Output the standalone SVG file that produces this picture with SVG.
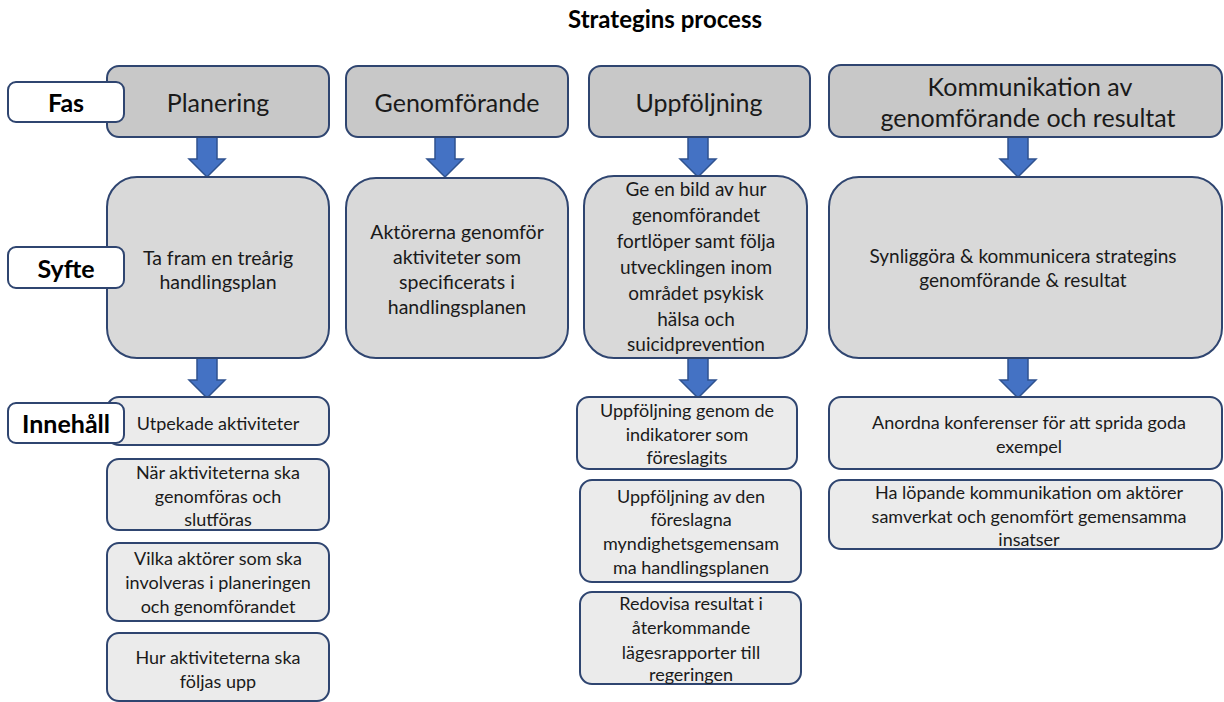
<svg xmlns="http://www.w3.org/2000/svg" width="1224" height="702" viewBox="0 0 1224 702">
<style>
text{font-family:Lato,"Liberation Sans",sans-serif;fill:#1a1a1a;text-anchor:middle;dominant-baseline:central}
.phase{fill:#c8c8c8;stroke:#2f4570;stroke-width:2}
.syfte{fill:#d9d9d9;stroke:#2f4570;stroke-width:2}
.cont{fill:#ebebeb;stroke:#2f4570;stroke-width:2}
.lab{fill:#ffffff;stroke:#2f4570;stroke-width:2}
.arr{fill:#4472c4;stroke:#2f528f;stroke-width:1.5}
.t1{font-size:25px}
.t2{font-size:19.5px}
.t2u{font-size:19px}
.t2k{font-size:19px}
.t3{font-size:18px}
.lb{font-size:25px;font-weight:bold;fill:#000}
.title{font-size:24px;font-weight:bold;fill:#000}
</style>
<defs>
<path id="ar" class="arr" d="M-10,0 H10 V22 H18 L0,40 L-18,22 H-10 Z"/>
</defs>
<text class="title" x="665" y="18">Strategins process</text>

<g id="connectors">
<use href="#ar" x="207" y="137"/>
<use href="#ar" x="445" y="137"/>
<use href="#ar" x="698" y="137"/>
<use href="#ar" x="1018" y="137"/>
<use href="#ar" x="207" y="358"/>
<use href="#ar" x="698" y="358"/>
<use href="#ar" x="1018" y="358"/>
</g>

<g id="planering"><rect class="phase" x="107" y="66" width="222" height="71" rx="12"/><text class="t1" x="218" y="102">Planering</text></g>
<g id="genomforande"><rect class="phase" x="346" y="66" width="222" height="71" rx="12"/><text class="t1" x="457" y="102">Genomförande</text></g>
<g id="uppfoljning"><rect class="phase" x="589" y="66" width="221" height="71" rx="12"/><text class="t1" x="699" y="102">Uppföljning</text></g>
<g id="kommunikation"><rect class="phase" x="829" y="65" width="393" height="72" rx="12"/><text class="t1" x="1030" y="86">Kommunikation av</text><text class="t1" x="1028" y="117">genomförande och resultat</text></g>

<g id="syfte-planering"><rect class="syfte" x="107" y="177" width="222" height="181" rx="30"/><text class="t2" x="218" y="257">Ta fram en treårig</text><text class="t2" x="218" y="281">handlingsplan</text></g>
<g id="syfte-genomforande"><rect class="syfte" x="346" y="178" width="222" height="180" rx="30"/><text class="t2" x="457" y="231">Aktörerna genomför</text><text class="t2" x="457" y="256">aktiviteter som</text><text class="t2" x="457" y="281">specificerats i</text><text class="t2" x="457" y="306">handlingsplanen</text></g>
<g id="syfte-uppfoljning"><rect class="syfte" x="584" y="176" width="223" height="182" rx="30"/>
<text class="t2u" x="696" y="188">Ge en bild av hur</text><text class="t2u" x="696" y="214">genomförandet</text><text class="t2u" x="696" y="240">fortlöper samt följa</text><text class="t2u" x="696" y="266">utvecklingen inom</text><text class="t2u" x="696" y="292">området psykisk</text><text class="t2u" x="696" y="318">hälsa och</text><text class="t2u" x="696" y="343">suicidprevention</text></g>
<g id="syfte-kommunikation"><rect class="syfte" x="829" y="177" width="393" height="181" rx="30"/><text class="t2k" x="1023" y="255">Synliggöra &amp; kommunicera strategins</text><text class="t2k" x="1023" y="279">genomförande &amp; resultat</text></g>

<g id="p1"><rect class="cont" x="107" y="397" width="222" height="48" rx="12"/><text class="t3" x="218" y="423">Utpekade aktiviteter</text></g>
<g id="p2"><rect class="cont" x="107" y="459" width="222" height="71" rx="12"/><text class="t3" x="218" y="472">När aktiviteterna ska</text><text class="t3" x="218" y="496">genomföras och</text><text class="t3" x="218" y="519">slutföras</text></g>
<g id="p3"><rect class="cont" x="107" y="543" width="222" height="78" rx="12"/><text class="t3" x="218" y="558">Vilka aktörer som ska</text><text class="t3" x="218" y="582">involveras i planeringen</text><text class="t3" x="218" y="606">och genomförandet</text></g>
<g id="p4"><rect class="cont" x="107" y="633" width="222" height="68" rx="12"/><text class="t3" x="218" y="657">Hur aktiviteterna ska</text><text class="t3" x="218" y="681">följas upp</text></g>

<g id="u1"><rect class="cont" x="577" y="397" width="220" height="72" rx="12"/><text class="t3" x="687" y="410">Uppföljning genom de</text><text class="t3" x="687" y="434">indikatorer som</text><text class="t3" x="687" y="457">föreslagits</text></g>
<g id="u2"><rect class="cont" x="580" y="480" width="221" height="102" rx="12"/><text class="t3" x="691" y="496">Uppföljning av den</text><text class="t3" x="691" y="519">föreslagna</text><text class="t3" x="691" y="543">myndighetsgemensam</text><text class="t3" x="691" y="567">ma handlingsplanen</text></g>
<g id="u3"><rect class="cont" x="580" y="592" width="221" height="92" rx="12"/><text class="t3" x="691" y="603">Redovisa resultat i</text><text class="t3" x="691" y="627">återkommande</text><text class="t3" x="691" y="652">lägesrapporter till</text><text class="t3" x="691" y="674">regeringen</text></g>

<g id="k1"><rect class="cont" x="829" y="397" width="393" height="72" rx="12"/><text class="t3" x="1029" y="422">Anordna konferenser för att sprida goda</text><text class="t3" x="1029" y="446">exempel</text></g>
<g id="k2"><rect class="cont" x="829" y="480" width="393" height="69" rx="12"/><text class="t3" x="1029" y="492">Ha löpande kommunikation om aktörer</text><text class="t3" x="1029" y="516">samverkat och genomfört gemensamma</text><text class="t3" x="1029" y="539">insatser</text></g>

<g id="label-fas"><rect class="lab" x="8" y="82" width="116" height="40" rx="8"/><text class="lb" x="66" y="102">Fas</text></g>
<g id="label-syfte"><rect class="lab" x="8" y="247" width="116" height="41" rx="8"/><text class="lb" x="66" y="268">Syfte</text></g>
<g id="label-innehall"><rect class="lab" x="8" y="403" width="116" height="40" rx="8"/><text class="lb" x="66" y="423">Innehåll</text></g>
</svg>
